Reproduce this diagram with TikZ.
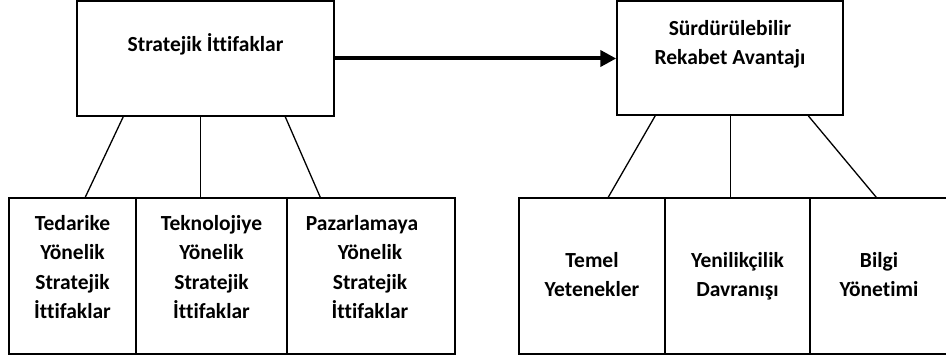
\documentclass[tikz,border=0pt]{standalone}
\usepackage{fontspec}
\setmainfont[Ligatures=CommonOff]{Carlito}
\usetikzlibrary{arrows.meta,calc}
\begin{document}
\begin{tikzpicture}[x=1pt,y=-1pt,
  box/.style={draw=black,line width=1.5pt,inner sep=0pt,fill=white},
  lbl/.style={align=center,inner sep=0pt,anchor=base,font=\fontsize{21.5}{29.5}\selectfont\bfseries},
  link/.style={draw=black,line width=1.3pt}]
\useasboundingbox (0,0) rectangle (946,358);
\clip (0,0) rectangle (946,358);
\fill[white] (0,0) rectangle (946,358);
% top boxes
\node[box,minimum width=257pt,minimum height=115pt] (tl) at (205.5,58.5) {};
\node[box,minimum width=226pt,minimum height=114pt] (tr) at (730,58) {};
% bottom boxes
\node[box,minimum width=127pt,minimum height=156pt] (b1) at (72.5,276) {};
\node[box,minimum width=151pt,minimum height=156pt] (b2) at (211.5,276) {};
\node[box,minimum width=168pt,minimum height=156pt] (b3) at (371,276) {};
\node[box,minimum width=146pt,minimum height=156pt] (b4) at (592,276) {};
\node[box,minimum width=145pt,minimum height=156pt] (b5) at (737.5,276) {};
\node[box,minimum width=138pt,minimum height=156pt] (b6) at (879,276) {};
% labels (anchor=base is the baseline of the last line)
\node[lbl] (t1) at (205.5,52) {Stratejik İttifaklar};
\node[lbl] (t2) at (730,65) {Sürdürülebilir\\Rekabet Avantajı};
\node[lbl] (t3) at (72.5,319) {Tedarike\\Yönelik\\Stratejik\\İttifaklar};
\node[lbl] (t4) at (211.5,319) {Teknolojiye\\Yönelik\\Stratejik\\İttifaklar};
\node[lbl] (t5) at (370,319) {Pazarlamaya\hspace*{16pt}\\Yönelik\\Stratejik\\İttifaklar};
\node[lbl] (t6) at (592,297) {Temel\\Yetenekler};
\node[lbl] (t7) at (737.5,297) {Yenilikçilik\\Davranışı};
\node[lbl] (t8) at (879,297) {Bilgi\\Yönetimi};
% main arrow
\draw[line width=4pt,-{Triangle[length=16pt,width=16pt]}] (tl.east) -- (tl.east -| tr.west);
% left tree connectors
\draw[link] ($(tl.south west)+(47,0)$) -- ($(b1.north west)+(77,0)$);
\draw[link] ($(tl.south west)+(124,0)$) -- ($(b2.north west)+(65,0)$);
\draw[link] ($(tl.south west)+(209,0)$) -- ($(b3.north west)+(34,0)$);
% right tree connectors
\draw[link] ($(tr.south west)+(39,0)$) -- ($(b4.north west)+(90,0)$);
\draw[link] ($(tr.south west)+(114,0)$) -- ($(b5.north west)+(66,0)$);
\draw[link] ($(tr.south west)+(192,0)$) -- ($(b6.north west)+(67,0)$);
\end{tikzpicture}
\end{document}
